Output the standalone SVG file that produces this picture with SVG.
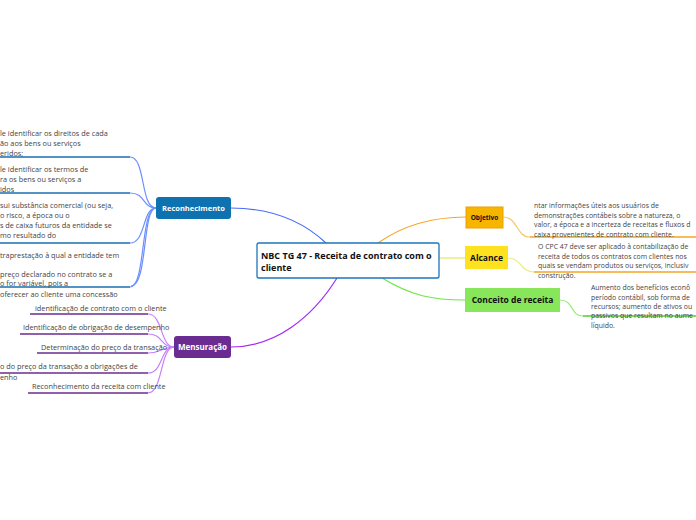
<svg xmlns="http://www.w3.org/2000/svg" width="696" height="520" viewBox="0 0 696 520">
<style>
.t{font-family:"Open Sans","Noto Sans","Liberation Sans",sans-serif;font-size:7.3px;fill:#444}
.r{font-size:6.9px}
.nt{font-family:"Open Sans","Noto Sans","Liberation Sans",sans-serif;font-weight:bold}
.c{fill:none;stroke-width:1.2}
.ub{stroke:#1a6fb0;stroke-width:1.3}
.cb{stroke:#6b8eff}
.up{stroke:#6a2c91;stroke-width:1.3}
.cp{stroke:#c680ff}
</style>
<rect width="696" height="520" fill="#fff"/>
<g id="connectors" fill="none">
  <path class="c" d="M231,208 C280,208 310,228 326,243" stroke="#4a6cf7"/>
  <path class="c" d="M337,278 C312,318 275,347 231,347" stroke="#a629f0"/>
  <path class="c" d="M378,243 C402,226 432,217 466,217" stroke="#f5a623"/>
  <path class="c" d="M439,258 L465,258" stroke="#dfe860"/>
  <path class="c" d="M382,278 C412,296 432,300 465,300" stroke="#6fe64a"/>
  <path class="c cb" d="M156,208 C140,208 146,157 130,157"/>
  <path class="c cb" d="M156,208 C142,208 146,193 130,193"/>
  <path class="c cb" d="M156,208 C142,208 146,243 130,243"/>
  <path class="c cb" d="M156,208 C140,208 146,287 130,287"/>
  <path class="c cb" d="M156,208 C142,208 148,286 131,286"/>
  <line class="ub" x1="0" y1="157" x2="130" y2="157"/>
  <line class="ub" x1="0" y1="193" x2="130" y2="193"/>
  <line class="ub" x1="0" y1="243" x2="130" y2="243"/>
  <line class="ub" x1="0" y1="287" x2="130" y2="287"/>
  <path class="c cp" d="M174,347 C160,347 163,314 148,314"/>
  <path class="c cp" d="M174,347 C160,347 163,334 148,334"/>
  <path class="c cp" d="M174,347 C162,347 162,353 148,353"/>
  <path class="c cp" d="M174,347 C160,347 163,373 148,373"/>
  <path class="c cp" d="M174,347 C160,347 163,393 148,393"/>
  <line class="up" x1="30" y1="314" x2="148" y2="314"/>
  <line class="up" x1="20" y1="334" x2="148" y2="334"/>
  <line class="up" x1="37" y1="353" x2="148" y2="353"/>
  <line class="up" x1="0" y1="373" x2="148" y2="373"/>
  <line class="up" x1="28" y1="393" x2="148" y2="393"/>
  <path class="c" d="M503,217 C518,217 516,237 530,237" stroke="#f9c66a"/>
  <line x1="530" y1="237" x2="696" y2="237" stroke="#f5a623" stroke-width="1.3"/>
  <path class="c" d="M508,258 C522,258 520,272 534,272" stroke="#e8ee86"/>
  <line x1="534" y1="272" x2="696" y2="272" stroke="#f5a623" stroke-width="1.3"/>
  <path class="c" d="M560,300 C574,300 570,316 583,316" stroke="#8ef06a"/>
  <line x1="583" y1="316" x2="696" y2="316" stroke="#55cc33" stroke-width="1.3"/>
</g>
<g id="rec-texts">
  <text class="t" x="0" y="136">le identificar os direitos de cada</text>
  <text class="t" x="0" y="146">ão aos bens ou serviços</text>
  <text class="t" x="0" y="156">eridos;</text>
  <text class="t" x="0" y="172">le identificar os termos de</text>
  <text class="t" x="0" y="182">ra os bens ou serviços a</text>
  <text class="t" x="0" y="192">idos</text>
  <text class="t" x="0" y="208">sui substância comercial (ou seja,</text>
  <text class="t" x="0" y="218">o risco, a época ou o</text>
  <text class="t" x="0" y="228">s de caixa futuros da entidade se</text>
  <text class="t" x="0" y="238">mo resultado do</text>
  <text class="t" x="0" y="258">traprestação à qual a entidade tem</text>
  <text class="t" x="0" y="277">preço declarado no contrato se a</text>
  <text class="t" x="0" y="286">o for variável, pois a</text>
  <text class="t" x="0" y="297">oferecer ao cliente uma concessão</text>
</g>
<g id="mens-texts">
  <text class="t" x="35" y="311">identificação de contrato com o cliente</text>
  <text class="t" x="23" y="330">Identificação de obrigação de desempenho</text>
  <text class="t" x="41" y="350">Determinação do preço da transação</text>
  <text class="t" x="0" y="369">o do preço da transação a obrigações de</text>
  <text class="t" x="0" y="380">enho</text>
  <text class="t" x="32" y="389">Reconhecimento da receita com cliente</text>
</g>
<g id="right-texts">
  <text class="t r" x="534" y="208">ntar informações úteis aos usuários de</text>
  <text class="t r" x="534" y="218">demonstrações contábeis sobre a natureza, o</text>
  <text class="t r" x="534" y="227">valor, a época e a incerteza de receitas e fluxos d</text>
  <text class="t r" x="534" y="237">caixa provenientes de contrato com cliente.</text>
  <text class="t r" x="538" y="249">O CPC 47 deve ser aplicado à contabilização de</text>
  <text class="t r" x="538" y="259">receita de todos os contratos com clientes nos</text>
  <text class="t r" x="538" y="268">quais se vendam produtos ou serviços, inclusiv</text>
  <text class="t r" x="538" y="278">construção.</text>
  <text class="t r" x="591" y="290">Aumento dos benefícios econô</text>
  <text class="t r" x="591" y="300">período contábil, sob forma de</text>
  <text class="t r" x="591" y="309">recursos; aumento de ativos ou</text>
  <text class="t r" x="591" y="318">passivos que resultam no aume</text>
  <text class="t r" x="591" y="328">líquido.</text>
</g>
<g id="center">
  <rect x="257" y="243" width="182" height="35" rx="2" fill="#fff" stroke="#1c75bc" stroke-width="1.3"/>
  <text class="nt" x="261" y="259" font-size="9" fill="#111">NBC TG 47 - Receita de contrato com o</text>
  <text class="nt" x="261" y="271" font-size="9" fill="#111">cliente</text>
</g>
<g id="reconhecimento">
  <rect x="156" y="197" width="75" height="22" rx="3" fill="#0f72b0"/>
  <text class="nt" x="193.5" y="211" font-size="7.5" fill="#fff" text-anchor="middle">Reconhecimento</text>
</g>
<g id="mensuracao">
  <rect x="174" y="336" width="57" height="22" rx="3" fill="#6a2c91"/>
  <text class="nt" x="202.5" y="350" font-size="8" fill="#fff" text-anchor="middle">Mensuração</text>
</g>
<g id="objetivo">
  <rect x="466" y="207" width="37" height="21" fill="#f7b500" stroke="#f0a000" stroke-width="1"/>
  <text class="nt" x="484.5" y="220" font-size="6.5" fill="#111" text-anchor="middle">Objetivo</text>
</g>
<g id="alcance">
  <rect x="465" y="246" width="43" height="23" fill="#ffe21f"/>
  <text class="nt" x="486.5" y="261" font-size="8.5" fill="#111" text-anchor="middle">Alcance</text>
</g>
<g id="conceito">
  <rect x="465" y="288" width="95" height="24" fill="#88e65a"/>
  <text class="nt" x="512.5" y="303" font-size="8.5" fill="#111" text-anchor="middle">Conceito de receita</text>
</g>
</svg>
